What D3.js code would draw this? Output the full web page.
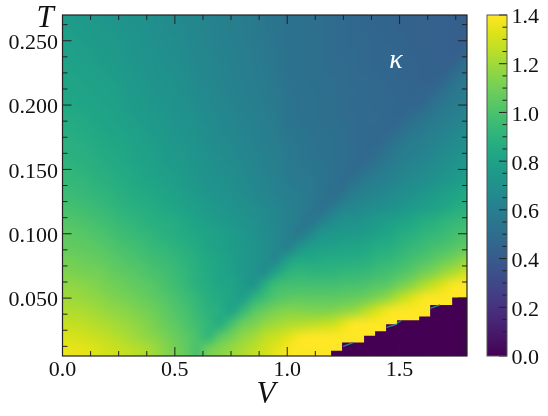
<!DOCTYPE html>
<html>
<head>
<meta charset="utf-8">
<script src="https://cdn.jsdelivr.net/npm/d3@7"></script>
<style>
body { margin: 0; background: #fff; }
#chart { position: relative; width: 548px; height: 416px; }
#chart canvas, #chart svg { position: absolute; left: 0; top: 0; }
text { font-family: "Liberation Serif", serif; fill: #111; }
</style>
</head>
<body>
<div id="chart"><canvas id="heat" width="548" height="416"></canvas><svg id="axes" width="548" height="416"></svg></div>
<script>
// grid of the map: one row per T (top row first), one column per V
const voltages = d3.range(37).map(i => i * 0.05);
const temperatures = d3.range(27).map(i => 0.27 - i * 0.01);
const kappa = [
[.77,.76,.75,.74,.73,.72,.71,.70,.69,.68,.67,.65,.64,.62,.61,.60,.58,.57,.55,.54,.53,.52,.51,.50,.49,.48,.47,.46,.45,.45,.44,.44,.43,.43,.43,.42,.42],
[.78,.77,.76,.75,.74,.73,.72,.71,.69,.68,.67,.66,.64,.63,.61,.60,.58,.57,.55,.54,.53,.52,.51,.50,.49,.48,.47,.46,.45,.45,.44,.44,.43,.43,.43,.42,.42],
[.79,.78,.77,.76,.75,.74,.73,.71,.70,.69,.68,.66,.65,.63,.62,.60,.59,.57,.56,.54,.53,.52,.51,.50,.49,.48,.47,.47,.46,.45,.45,.44,.44,.43,.43,.42,.42],
[.80,.79,.78,.77,.76,.75,.73,.72,.71,.69,.68,.67,.65,.64,.62,.61,.59,.58,.56,.55,.53,.52,.51,.50,.49,.48,.48,.47,.46,.46,.45,.44,.44,.43,.43,.42,.46],
[.81,.80,.79,.78,.77,.76,.74,.73,.72,.70,.69,.67,.66,.64,.63,.61,.60,.58,.57,.55,.53,.52,.51,.50,.49,.49,.48,.47,.46,.46,.45,.45,.44,.44,.43,.46,.53],
[.82,.81,.80,.79,.78,.77,.75,.74,.72,.71,.70,.68,.66,.65,.63,.62,.60,.59,.57,.56,.53,.52,.51,.50,.50,.49,.48,.48,.47,.46,.45,.45,.44,.44,.46,.53,.56],
[.83,.82,.81,.80,.79,.78,.76,.75,.73,.72,.70,.69,.67,.66,.64,.62,.61,.59,.58,.56,.54,.53,.52,.51,.50,.49,.49,.48,.47,.47,.46,.45,.45,.47,.53,.56,.58],
[.84,.83,.82,.81,.80,.79,.77,.76,.74,.73,.71,.70,.68,.66,.65,.63,.61,.60,.58,.57,.54,.53,.52,.51,.50,.49,.48,.48,.47,.47,.46,.46,.47,.53,.56,.58,.61],
[.86,.85,.84,.82,.81,.80,.78,.77,.75,.74,.72,.71,.69,.67,.66,.64,.62,.61,.59,.57,.54,.53,.52,.51,.50,.49,.49,.48,.48,.47,.46,.49,.54,.56,.59,.61,.64],
[.87,.86,.85,.84,.82,.81,.80,.78,.76,.75,.73,.72,.70,.68,.66,.65,.63,.61,.60,.58,.55,.54,.53,.52,.51,.50,.49,.48,.47,.47,.50,.55,.57,.60,.62,.65,.67],
[.89,.88,.87,.85,.84,.83,.81,.79,.78,.76,.74,.73,.71,.69,.67,.66,.64,.62,.60,.59,.56,.55,.54,.53,.52,.50,.49,.48,.47,.51,.56,.58,.60,.63,.65,.67,.70],
[.90,.89,.88,.87,.85,.84,.82,.80,.79,.77,.75,.74,.72,.70,.68,.67,.65,.63,.61,.60,.57,.55,.54,.53,.52,.50,.49,.47,.51,.55,.58,.60,.63,.65,.68,.70,.73],
[.92,.91,.90,.88,.87,.85,.84,.82,.80,.78,.77,.75,.73,.71,.69,.68,.66,.64,.62,.60,.57,.56,.55,.54,.52,.50,.48,.52,.56,.59,.62,.64,.66,.68,.71,.73,.76],
[.94,.93,.92,.90,.89,.87,.85,.83,.82,.80,.78,.76,.74,.72,.71,.69,.67,.65,.63,.61,.58,.57,.56,.54,.52,.49,.54,.58,.60,.62,.65,.67,.69,.71,.74,.77,.80],
[.96,.95,.94,.92,.91,.89,.87,.85,.84,.82,.80,.78,.76,.74,.72,.70,.68,.66,.64,.62,.60,.58,.56,.54,.50,.55,.60,.62,.64,.66,.69,.71,.74,.77,.79,.82,.85],
[.99,.98,.97,.95,.93,.91,.89,.88,.86,.84,.82,.80,.78,.76,.74,.72,.70,.68,.66,.64,.61,.59,.56,.52,.57,.63,.65,.67,.69,.71,.73,.76,.78,.80,.83,.86,.89],
[1.02,1.01,1.00,.98,.96,.94,.92,.90,.88,.87,.86,.83,.80,.78,.76,.74,.72,.70,.67,.64,.61,.58,.54,.60,.67,.70,.71,.73,.75,.78,.80,.83,.86,.88,.91,.93,.95],
[1.05,1.04,1.03,1.01,.99,.97,.95,.93,.91,.89,.87,.85,.83,.81,.79,.77,.74,.71,.68,.65,.61,.56,.64,.73,.74,.75,.76,.77,.80,.82,.86,.88,.91,.93,.95,.98,1.00],
[1.07,1.06,1.05,1.04,1.02,1.00,.98,.96,.94,.92,.90,.88,.85,.81,.79,.77,.75,.72,.69,.65,.60,.70,.77,.79,.79,.81,.82,.83,.86,.87,.90,.93,.95,.98,1.00,1.03,1.06],
[1.10,1.09,1.08,1.07,1.05,1.03,1.01,.99,.97,.95,.93,.90,.87,.84,.81,.78,.75,.72,.69,.65,.78,.84,.84,.85,.86,.86,.87,.88,.91,.92,.95,.98,1.01,1.04,1.08,1.12,1.17],
[1.13,1.12,1.11,1.10,1.08,1.06,1.04,1.02,1.00,.98,.95,.92,.88,.85,.82,.79,.76,.72,.68,.82,.90,.92,.91,.91,.91,.92,.93,.94,.96,.98,1.01,1.04,1.09,1.13,1.19,1.24,1.30],
[1.17,1.16,1.15,1.13,1.11,1.09,1.07,1.05,1.03,1.00,.97,.93,.89,.86,.83,.81,.77,.73,.88,.97,.98,.98,.98,.98,.98,.99,.99,1.01,1.03,1.05,1.10,1.15,1.22,1.28,1.34,1.40,1.42],
[1.20,1.19,1.18,1.16,1.14,1.12,1.10,1.08,1.06,1.03,1.00,.96,.92,.88,.85,.82,.78,.90,.97,1.02,1.04,1.06,1.05,1.05,1.05,1.06,1.07,1.09,1.13,1.18,1.26,1.32,1.38,1.42,1.42,1.42,1.42],
[1.24,1.23,1.22,1.20,1.18,1.16,1.14,1.12,1.09,1.06,1.02,.99,.94,.90,.87,.81,.93,1.03,1.08,1.12,1.14,1.14,1.13,1.13,1.13,1.16,1.19,1.25,1.32,1.38,1.42,1.42,1.42,1.42,1.42,1.42,1.42],
[1.28,1.27,1.26,1.24,1.22,1.20,1.18,1.15,1.12,1.08,1.05,1.01,.97,.92,.86,.98,1.08,1.12,1.17,1.20,1.23,1.24,1.25,1.27,1.29,1.35,1.41,1.42,1.42,1.42,1.42,1.42,1.42,1.42,1.42,1.42,1.42],
[1.32,1.31,1.30,1.28,1.26,1.24,1.21,1.18,1.15,1.12,1.08,1.04,.99,.92,1.04,1.10,1.16,1.20,1.26,1.29,1.33,1.38,1.40,1.42,1.42,1.42,1.42,1.42,1.42,1.42,1.42,1.42,1.42,1.42,1.42,1.42,1.42],
[1.36,1.35,1.34,1.32,1.30,1.28,1.26,1.24,1.20,1.15,1.11,1.06,1.00,1.10,1.14,1.18,1.22,1.26,1.30,1.34,1.38,1.41,1.42,1.42,1.42,1.42,1.42,1.42,1.42,1.42,1.42,1.42,1.42,1.42,1.42,1.42,1.42]
];
// κ drops to zero below this staircase
const edgeV = [1.195, 1.244, 1.293, 1.342, 1.391, 1.44, 1.489, 1.538, 1.587, 1.636, 1.685, 1.734, 1.8];
const edgeT = [0.0091, 0.0154, 0.0154, 0.0208, 0.0242, 0.0297, 0.0328, 0.0328, 0.0356, 0.0447, 0.0447, 0.0505, 0.0505];
// short teal rims on some of the steps: [V start, T start, V end, T end]
const rims = [
    [1.249, 0.0125, 1.293, 0.0154],
    [1.442, 0.0272, 1.489, 0.0297],
    [1.489, 0.0305, 1.509, 0.0328],
    [1.636, 0.0420, 1.68, 0.0447]
];
const xTicks = [0, 0.5, 1, 1.5];
const yTicks = [0.05, 0.1, 0.15, 0.2, 0.25];
const barTicks = [0, 0.2, 0.4, 0.6, 0.8, 1, 1.2, 1.4];

const plotLeft = 62.5, plotRight = 467, plotTop = 15, plotBottom = 356;
const barLeft = 487, barRight = 507;
const ink = "#222";

const x = d3.scaleLinear().domain([0, 1.8]).range([plotLeft, plotRight]);
const y = d3.scaleLinear().domain([0.005, 0.27]).range([plotBottom, plotTop]);
const barY = d3.scaleLinear().domain([0, 1.4]).range([plotBottom, plotTop]);
const color = d3.scaleSequential(d3.interpolateViridis).domain([0, 1.4]).clamp(true);

// Heat map: paint the grid one pixel per value, then let the canvas smooth it up
const grid = document.createElement("canvas");
grid.width = voltages.length;
grid.height = temperatures.length;
const gridCtx = grid.getContext("2d");
const img = gridCtx.createImageData(grid.width, grid.height);
kappa.forEach((row, j) => row.forEach((v, i) => {
    const c = d3.rgb(color(v));
    const k = (j * grid.width + i) * 4;
    img.data[k] = c.r; img.data[k + 1] = c.g; img.data[k + 2] = c.b; img.data[k + 3] = 255;
}));
gridCtx.putImageData(img, 0, 0);

const ctx = document.getElementById("heat").getContext("2d");
ctx.save();
ctx.beginPath();
ctx.rect(plotLeft, plotTop, plotRight - plotLeft, plotBottom - plotTop);
ctx.clip();
ctx.imageSmoothingEnabled = true;
ctx.imageSmoothingQuality = "high";
const cellW = x(0.05) - x(0), cellH = y(0) - y(0.01);
ctx.drawImage(grid, x(0) - cellW / 2, y(0.27) - cellH / 2,
    cellW * voltages.length, cellH * temperatures.length);
ctx.restore();

const svg = d3.select("#axes");

// purple region under the staircase
const edgeArea = d3.area()
    .x((d, i) => x(edgeV[i]))
    .y0(y(0.005))
    .y1(d => y(d))
    .curve(d3.curveStepAfter);
svg.append("path").attr("d", edgeArea(edgeT)).attr("fill", color(0));

svg.append("g").selectAll("line").data(rims).join("line")
    .attr("x1", d => x(d[0])).attr("y1", d => y(d[1]))
    .attr("x2", d => x(d[2])).attr("y2", d => y(d[3]))
    .attr("stroke", color(0.65)).attr("stroke-width", 1.3);

// colour bar
const gradient = svg.append("defs").append("linearGradient")
    .attr("id", "viridisBar")
    .attr("x1", 0).attr("x2", 0).attr("y1", 1).attr("y2", 0);
d3.range(0, 1.0001, 0.05).forEach(t => {
    gradient.append("stop").attr("offset", t).attr("stop-color", d3.interpolateViridis(t));
});
svg.append("rect")
    .attr("x", barLeft).attr("y", plotTop)
    .attr("width", barRight - barLeft).attr("height", plotBottom - plotTop)
    .attr("fill", "url(#viridisBar)");

function ticks(values, len, draw) {
    values.forEach(v => draw(v, len));
}
function hTick(scale, xa, dir) {
    return (v, len) => svg.append("line")
        .attr("x1", xa).attr("x2", xa + dir * len)
        .attr("y1", scale(v)).attr("y2", scale(v))
        .attr("stroke", ink).attr("stroke-width", 1);
}
function vTick(ya, dir) {
    return (v, len) => svg.append("line")
        .attr("y1", ya).attr("y2", ya + dir * len)
        .attr("x1", x(v)).attr("x2", x(v))
        .attr("stroke", ink).attr("stroke-width", 1);
}
const xMinor = d3.range(0, 1.8001, 0.125).filter(v => v % 0.5 !== 0);
const yMinor = d3.range(0.0125, 0.27, 0.0125).filter(v => Math.abs(v / 0.05 - Math.round(v / 0.05)) > 0.01);
const barMinor = d3.range(0.05, 1.4, 0.05).filter(v => Math.abs(v / 0.2 - Math.round(v / 0.2)) > 0.01);

ticks(xTicks, 9, vTick(plotBottom, -1));
ticks(xTicks, 9, vTick(plotTop, 1));
ticks(xMinor, 5, vTick(plotBottom, -1));
ticks(xMinor, 5, vTick(plotTop, 1));
ticks(yTicks, 9, hTick(y, plotLeft, 1));
ticks(yTicks, 9, hTick(y, plotRight, -1));
ticks(yMinor, 5, hTick(y, plotLeft, 1));
ticks(yMinor, 5, hTick(y, plotRight, -1));
ticks(barTicks, 8, hTick(barY, barRight, -1));
ticks(barMinor, 4.5, hTick(barY, barRight, -1));

svg.append("rect")
    .attr("x", plotLeft).attr("y", plotTop).attr("width", plotRight - plotLeft).attr("height", plotBottom - plotTop)
    .attr("fill", "none").attr("stroke", ink).attr("stroke-width", 1.2);
svg.append("rect")
    .attr("x", barLeft).attr("y", plotTop).attr("width", barRight - barLeft).attr("height", plotBottom - plotTop)
    .attr("fill", "none").attr("stroke", "#555").attr("stroke-width", 1);

// tick labels
svg.append("g").selectAll("text").data(xTicks).join("text")
    .attr("x", d => x(d)).attr("y", 376)
    .attr("text-anchor", "middle").attr("font-size", 22)
    .text(d => d3.format(".1f")(d));
svg.append("g").selectAll("text").data(yTicks).join("text")
    .attr("x", 58).attr("y", d => y(d) + 8.4)
    .attr("text-anchor", "end").attr("font-size", 22)
    .text(d => d3.format(".3f")(d));
svg.append("g").selectAll("text").data(barTicks).join("text")
    .attr("x", 511.5).attr("y", d => barY(d) + 8.4)
    .attr("font-size", 22)
    .text(d => d3.format(".1f")(d));

// axis names and the κ label
svg.append("text").attr("x", 45).attr("y", 27).attr("text-anchor", "middle")
    .attr("font-size", 31).attr("font-style", "italic").text("T");
svg.append("text").attr("x", 266).attr("y", 403).attr("text-anchor", "middle")
    .attr("font-size", 31).attr("font-style", "italic").text("V");
svg.append("text").attr("x", 396).attr("y", 68).attr("text-anchor", "middle")
    .attr("font-size", 28).attr("font-style", "italic").style("fill", "#fff").text("κ");
</script>
</body>
</html>
